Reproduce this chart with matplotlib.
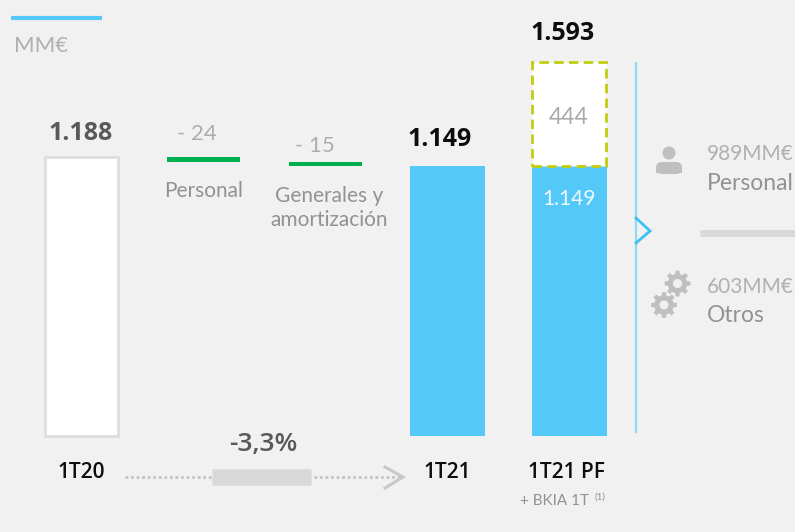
import numpy as np
import matplotlib
matplotlib.use('Agg')
import matplotlib.pyplot as plt
from matplotlib.patches import Circle, Polygon, FancyBboxPatch

plt.rcParams['font.family'] = ['Open Sans', 'DejaVu Sans']

periods = ['1T20', '1T21', '1T21 PF']
totals = [1188, 1149, 1149]
bkia = 444
pf_total = 1593
bridge_labels = ['Personal', 'Generales y\namortización']
bridge_values = [24, 15]
variation = '-3,3%'
side_values = ['989MM€', '603MM€']
side_labels = ['Personal', 'Otros']

W, H = 795, 532
BG = '#f1f1f1'; BLUE = '#54c8f7'; GREEN = '#00b050'; LIME = '#c4cc10'
DARK = '#595959'; BLACK = '#0d0d0d'

fig = plt.figure(figsize=(W/100, H/100), dpi=100, facecolor=BG)
ov = fig.add_axes([0, 0, 1, 1], zorder=3)
ov.set_xlim(0, W); ov.set_ylim(H, 0); ov.axis('off')
ov.patch.set_alpha(0)

base = 436; scale = 270/1149
ax = fig.add_axes([0, 1-base/H, 1, base/H], zorder=1)
ax.set_xlim(0, W); ax.set_ylim(0, base/scale); ax.axis('off')
ax.patch.set_alpha(0)

xs = [81.5, 447.5, 569]
ax.bar(xs[0], totals[0], 73, color='white', edgecolor='#dedede', linewidth=2, clip_on=False)
ax.bar(xs[1], totals[1], 75, color=BLUE)
ax.bar(xs[2], totals[2], 75, color=BLUE)
ax.bar(xs[2], bkia, 74, bottom=totals[2], color='white', edgecolor=LIME,
       linewidth=2, linestyle=(0, (3.4, 1.9)), zorder=3, clip_on=False)

bx = [203.5, 325.5]
tops = [totals[0], totals[0]-bridge_values[0]]
for x, t, v in zip(bx, tops, bridge_values):
    ax.bar(x, v, 73, bottom=t-v, color=GREEN)

def T(x, y, s, size, color, weight='normal', ha='center', family=None, **kw):
    ov.text(x, y, s, fontsize=size, color=color, weight=weight, ha=ha, va='center',
            family=family or ['Open Sans', 'DejaVu Sans'], **kw)
def L(x, y, s, size, color, ha='center', **kw):
    T(x, y, s, size, color, 'normal', ha, ['Lato', 'DejaVu Sans'], **kw)

ov.plot([11, 102], [18, 18], color=BLUE, lw=3, solid_capstyle='butt')
L(14, 46, 'MM€', 16, '#b0b0b0', ha='left')

T(81, 134, f'{totals[0]:,}'.replace(',', '.'), 18, DARK, 'bold')
T(439.5, 140, f'{totals[1]:,}'.replace(',', '.'), 18, BLACK, 'bold')
T(563, 34, f'{pf_total:,}'.replace(',', '.'), 18, BLACK, 'bold')
L(569, 117, str(bkia), 16.5, '#aaaaaa')
L(569, 199, f'{totals[2]:,}'.replace(',', '.'), 15, '#eef9fe')

for x, y, v in zip([197, 315], [134, 146], bridge_values):
    L(x, y, f'- {v}', 16, '#adadad')
L(204, 191, bridge_labels[0], 15, '#929292')
L(329, 208, bridge_labels[1], 15, '#929292', linespacing=1.2)

for x, p in zip([81, 447, 566], periods):
    T(x, 472, p, 15, BLACK, 'semibold')
L(555, 501, '+ BKIA 1T', 11, '#929292')
L(600, 497, '(1)', 7, '#929292')

T(263, 444, variation, 19, DARK, 'semibold')
ov.plot([125, 400], [477, 477], color='#c4c4c4', lw=2, ls=(0, (1, 1)))
ov.plot([212, 311], [477, 477], color='#d9d9d9', lw=12, solid_capstyle='butt')
ov.plot([385, 403, 385], [467, 477, 488], color='#c8c8c8', lw=2.2, solid_joinstyle='miter')

ov.plot([636, 636], [62, 433], color='#93d8f2', lw=1.6, solid_capstyle='butt')
ov.add_patch(Polygon([(634, 208), (638, 208), (638, 255), (634, 255)], color=BG, lw=0))
ov.plot([636, 650, 636], [218, 231, 243], color='#3cc0f5', lw=2, solid_joinstyle='miter', zorder=5)

ov.plot([700, 795], [233, 233], color='#d9d9d9', lw=5, solid_capstyle='butt')

L(707, 154, side_values[0], 15, '#b0b0b0', ha='left')
L(707, 183, side_labels[0], 16.5, '#929292', ha='left')
L(707, 287, side_values[1], 15, '#b0b0b0', ha='left')
L(707, 316, side_labels[1], 16.5, '#929292', ha='left')

ICON = '#bfbfbf'
ov.add_patch(Circle((669, 153), 6.5, color=ICON, lw=0))
ov.add_patch(FancyBboxPatch((656, 162), 26, 12, boxstyle='round,pad=0,rounding_size=6',
                            color=ICON, lw=0))
ov.add_patch(Polygon([(656, 168), (682, 168), (682, 173), (656, 173)], color=ICON, lw=0))

def gear(cx, cy, ro, ri, hole, n=8):
    pts = []
    for i in range(n):
        a = 2*np.pi*i/n
        d = 2*np.pi/n
        for off, r in [(-0.30, ri), (-0.20, ro), (0.20, ro), (0.30, ri)]:
            th = a + off*d
            pts.append((cx + r*np.cos(th), cy + r*np.sin(th)))
    ov.add_patch(Polygon(pts, closed=True, color=ICON, lw=0))
    ov.add_patch(Circle((cx, cy), hole, color=BG, lw=0))
gear(677.5, 283.5, 13, 9.8, 4.5)
gear(664, 305, 13, 9.8, 4.5)

fig.savefig('out.png', dpi=100, facecolor=BG)
